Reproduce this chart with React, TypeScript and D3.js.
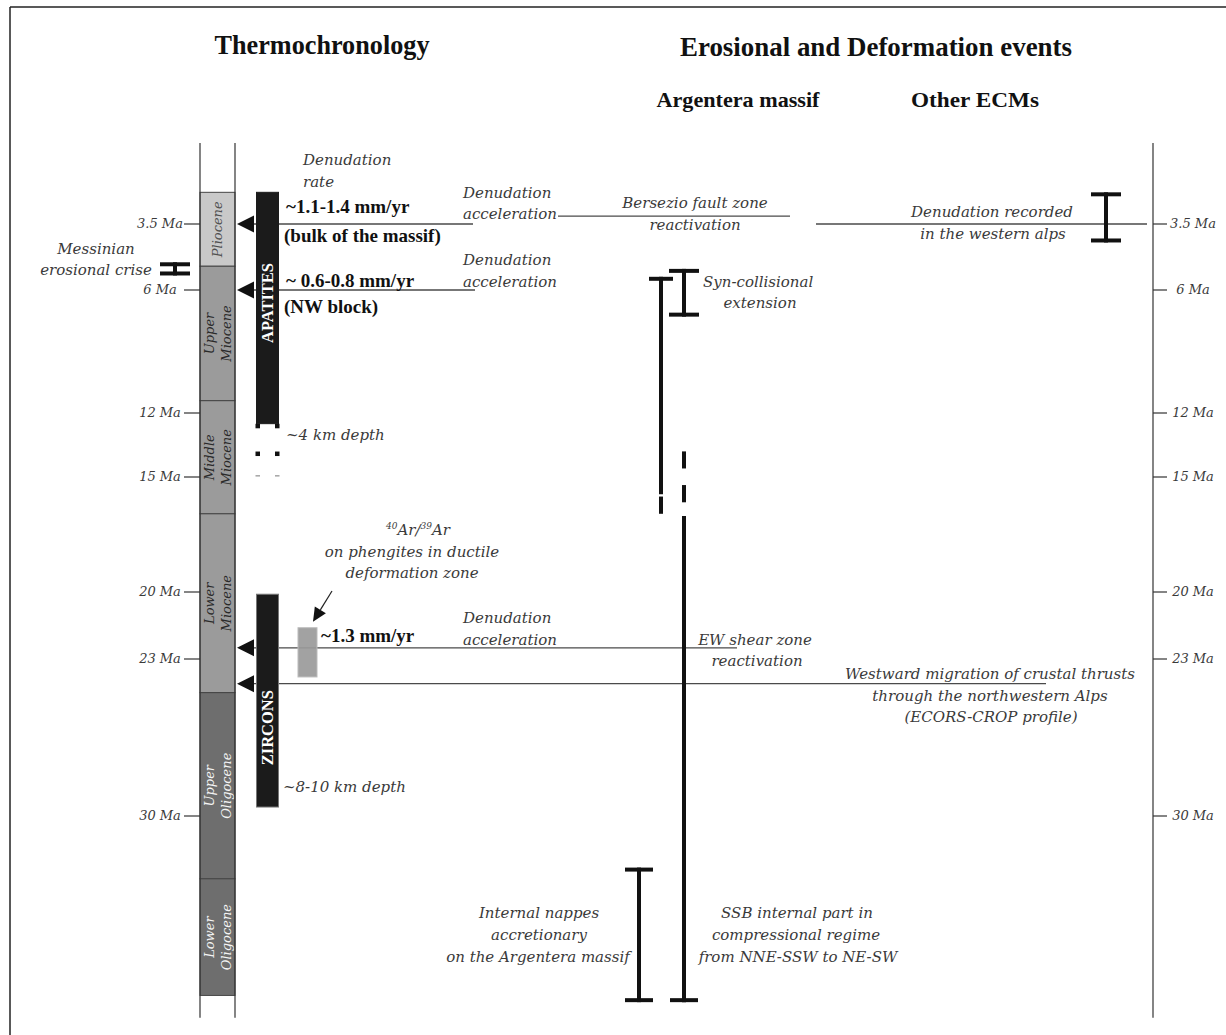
import React from "react";
import * as d3 from "d3";

// ---------- data (ages in Ma) ----------
const TICK_MA = [3.5, 6, 12, 15, 20, 23, 30];
const TICK_LABELS = ["3.5 Ma", "6 Ma", "12 Ma", "15 Ma", "20 Ma", "23 Ma", "30 Ma"];
const AXIS_SPAN_MA = [0.43, 39.0];

const EPOCH_NAMES = [["Pliocene"], ["Upper", "Miocene"], ["Middle", "Miocene"], ["Lower", "Miocene"], ["Upper", "Oligocene"], ["Lower", "Oligocene"]];
const EPOCH_TOP_MA = [2.3, 5.1, 11.4, 16.6, 24.5, 32.8];
const EPOCH_BASE_MA = [5.1, 11.4, 16.6, 24.5, 32.8, 38.0];
const EPOCH_GROUP = ["Pliocene", "Miocene", "Miocene", "Miocene", "Oligocene", "Oligocene"];

const THERMO_LABELS = ["APATITES", "ZIRCONS"];
const THERMO_FROM_MA = [2.3, 20.1];
const THERMO_TO_MA = [12.5, 29.6];
const APATITE_TAIL_MA = [12.6, 13.9, 15.0];

const ARROW_MA = [3.5, 6, 22.5, 24.1];
const ARAR_RANGE_MA = [21.6, 23.8];
const MESSINIAN_RANGE_MA = [4.95, 5.45];
const SYN_COLL_RANGE_MA = [5.2, 7.3];
const WESTERN_ALPS_RANGE_MA = [2.3, 4.2];
const NAPPES_RANGE_MA = [32.3, 38.3];
const ARG_LINE1_MA = [[5.5, 15.75], [15.85, 16.6]];
const ARG_LINE2_MA = [[13.8, 14.6], [15.35, 16.1], [16.7, 38.3]];
const BERSEZIO_MA = 3.2;

// ---------- styles ----------
const SERIF = "'DejaVu Serif', serif";
const TIMES = "'Liberation Serif', 'Times New Roman', serif";
const INK = "#3a3a3a";
const LINE = "#4a4a4a";
const EPOCH_FILL: Record<string, string> = { Pliocene: "#c9c9c9", Miocene: "#9b9b9b", Oligocene: "#6e6e6e" };
const EPOCH_TEXT: Record<string, string> = { Pliocene: "#505050", Miocene: "#2a2a2a", Oligocene: "#f4f4f4" };

function It({ x, y, children, anchor = "start", size = 15, fill = INK }: any) {
  return (
    <text x={x} y={y} dy="0.35em" textAnchor={anchor} fontSize={size} fontStyle="italic" fontFamily={SERIF} fill={fill}>
      {children}
    </text>
  );
}
function Bd({ x, y, children, anchor = "start", size = 19 }: any) {
  return (
    <text x={x} y={y} dy="0.33em" textAnchor={anchor} fontSize={size} fontWeight="bold" fontFamily={TIMES} fill="#111">
      {children}
    </text>
  );
}
function IBar({ x, y0, y1, hw, w = 4, top = true, bottom = true }: any) {
  return (
    <g stroke="#111" strokeWidth={w} strokeLinecap="butt">
      <line x1={x} x2={x} y1={y0} y2={y1} />
      {top && <line x1={x - hw} x2={x + hw} y1={y0 + w / 2} y2={y0 + w / 2} />}
      {bottom && <line x1={x - hw} x2={x + hw} y1={y1 - w / 2} y2={y1 - w / 2} />}
    </g>
  );
}

export default function App() {
  const y = d3.scaleLinear().domain(TICK_MA).range([224, 290, 413, 477, 592, 659, 816]);

  const colL = 200, colR = 235, rightAxis = 1153;
  const barL = 256.5, barR = 278.5;
  const argX1 = 661, argX2 = 684;

  // Ar/Ar pointer arrow
  const aStart = [332, y(20) - 1];
  const aTip = [313, y(ARAR_RANGE_MA[0]) - 6];
  const dx = aTip[0] - aStart[0], dyv = aTip[1] - aStart[1];
  const len = Math.hypot(dx, dyv);
  const ux = dx / len, uy = dyv / len;
  const hb = [aTip[0] - ux * 14, aTip[1] - uy * 14];
  const headPts = [aTip, [hb[0] - uy * 6.5, hb[1] + ux * 6.5], [hb[0] + uy * 6.5, hb[1] - ux * 6.5]];

  const arrowEnds = [473, 475, 737, 1046];

  return (
    <svg width={1226} height={1035} style={{ position: "absolute", left: 0, top: 0, background: "#fff" }}>
      {/* frame */}
      <line x1={10} x2={1226} y1={7} y2={7} stroke="#222" strokeWidth={1.5} />
      <line x1={10} x2={10} y1={7} y2={1035} stroke="#222" strokeWidth={1.5} />

      {/* titles */}
      <text x={322} y={54} textAnchor="middle" fontFamily={TIMES} fontWeight="bold" fontSize={28} textLength={215} lengthAdjust="spacingAndGlyphs" fill="#111">Thermochronology</text>
      <text x={876} y={56} textAnchor="middle" fontFamily={TIMES} fontWeight="bold" fontSize={28} textLength={392} lengthAdjust="spacingAndGlyphs" fill="#111">Erosional and Deformation events</text>
      <text x={738} y={107} textAnchor="middle" fontFamily={TIMES} fontWeight="bold" fontSize={22} textLength={163} lengthAdjust="spacingAndGlyphs" fill="#111">Argentera massif</text>
      <text x={975} y={107} textAnchor="middle" fontFamily={TIMES} fontWeight="bold" fontSize={22} textLength={128} lengthAdjust="spacingAndGlyphs" fill="#111">Other ECMs</text>

      {/* time column */}
      {EPOCH_NAMES.map((nm, i) => {
        const y0 = y(EPOCH_TOP_MA[i]), y1 = y(EPOCH_BASE_MA[i]);
        const g = EPOCH_GROUP[i];
        const cy = (y0 + y1) / 2, cx = (colL + colR) / 2;
        return (
          <g key={i}>
            <rect x={colL} y={y0} width={colR - colL} height={y1 - y0} fill={EPOCH_FILL[g]} stroke="#444" strokeWidth={1} />
            <g transform={`translate(${cx},${cy}) rotate(-90)`}>
              {nm.map((t, j) => (
                <text key={j} x={0} y={(j - (nm.length - 1) / 2) * 17} dy="0.35em" textAnchor="middle" fontSize={13} fontStyle="italic" fontFamily={SERIF} fill={EPOCH_TEXT[g]}>{t}</text>
              ))}
            </g>
          </g>
        );
      })}
      <line x1={colL} x2={colL} y1={y(AXIS_SPAN_MA[0])} y2={y(AXIS_SPAN_MA[1])} stroke="#333" strokeWidth={1.2} />
      <line x1={colR} x2={colR} y1={y(AXIS_SPAN_MA[0])} y2={y(AXIS_SPAN_MA[1])} stroke="#333" strokeWidth={1.2} />
      {TICK_MA.map((t, i) => (
        <g key={i}>
          <line x1={184} x2={colL} y1={y(t)} y2={y(t)} stroke="#333" strokeWidth={1.2} />
          <It x={160} y={y(t) - 1} anchor="middle" size={13}>{TICK_LABELS[i]}</It>
        </g>
      ))}

      {/* right axis */}
      <line x1={rightAxis} x2={rightAxis} y1={y(AXIS_SPAN_MA[0])} y2={y(AXIS_SPAN_MA[1])} stroke="#333" strokeWidth={1.2} />
      {TICK_MA.map((t, i) => (
        <g key={i}>
          <line x1={rightAxis} x2={rightAxis + 14} y1={y(t)} y2={y(t)} stroke="#333" strokeWidth={1.2} />
          <It x={1193} y={y(t) - 1} anchor="middle" size={13}>{TICK_LABELS[i]}</It>
        </g>
      ))}

      {/* horizontal event lines and arrows */}
      {ARROW_MA.map((t, i) => (
        <g key={i}>
          <line x1={252} x2={arrowEnds[i]} y1={y(t)} y2={y(t)} stroke={LINE} strokeWidth={1.4} />
          <polygon points={`${237},${y(t)} ${254},${y(t) - 8.5} ${254},${y(t) + 8.5}`} fill="#111" />
        </g>
      ))}
      <line x1={558} x2={790} y1={y(BERSEZIO_MA)} y2={y(BERSEZIO_MA)} stroke={LINE} strokeWidth={1.4} />
      <line x1={816} x2={1147} y1={y(3.5)} y2={y(3.5)} stroke={LINE} strokeWidth={1.4} />

      {/* thermochronology bars */}
      {THERMO_LABELS.map((lab, i) => {
        const y0 = y(THERMO_FROM_MA[i]), y1 = y(THERMO_TO_MA[i]);
        const cy = i === 0 ? (y0 + y1) / 2 - 5 : (y0 + y1) / 2 + 27;
        return (
          <g key={i}>
            <rect x={barL} y={y0} width={barR - barL} height={y1 - y0} fill="#1b1b1b" stroke={i === 1 ? "#777" : "#1b1b1b"} strokeWidth={1} />
            <text transform={`translate(${(barL + barR) / 2},${cy}) rotate(-90)`} dy="0.35em" textAnchor="middle" fontFamily={TIMES} fontWeight="bold" fontSize={16.5} fill="#fff">{lab}</text>
          </g>
        );
      })}
      {APATITE_TAIL_MA.map((t, i) => (
        <g key={i} fill={i === 2 ? "#aaa" : "#111"}>
          <rect x={barL - 1} y={y(t) - 2} width={4.5} height={i === 2 ? 1.6 : 4.5} />
          <rect x={barR - 3.5} y={y(t) - 2} width={4.5} height={i === 2 ? 1.6 : 4.5} />
        </g>
      ))}

      {/* Ar/Ar grey box and pointer */}
      <rect x={298} y={y(ARAR_RANGE_MA[0])} width={19} height={y(ARAR_RANGE_MA[1]) - y(ARAR_RANGE_MA[0])} fill="#9a9a9a" fillOpacity={0.92} stroke="#bbb" strokeWidth={1} />
      <line x1={aStart[0]} y1={aStart[1]} x2={hb[0]} y2={hb[1]} stroke="#222" strokeWidth={1.2} />
      <polygon points={headPts.map((p) => p.join(",")).join(" ")} fill="#111" />

      {/* thermochronology annotations */}
      <It x={303} y={y(3.5) - 64}>Denudation</It>
      <It x={303} y={y(3.5) - 42}>rate</It>
      <Bd x={286} y={y(3.5) - 17}>~1.1-1.4 mm/yr</Bd>
      <Bd x={284} y={y(3.5) + 12}>(bulk of the massif)</Bd>
      <Bd x={286} y={y(6) - 9}>~ 0.6-0.8 mm/yr</Bd>
      <Bd x={284} y={y(6) + 17}>(NW block)</Bd>
      <It x={286} y={y(12) + 22}>~4 km depth</It>
      <Bd x={321} y={y(ARAR_RANGE_MA[0]) + 8}>~1.3 mm/yr</Bd>
      <It x={283} y={y(THERMO_TO_MA[1]) - 20}>~8-10 km depth</It>
      <text x={418} y={y(20) - 57} textAnchor="middle" fontSize={15} fontStyle="italic" fontFamily={SERIF} fill={INK}>
        <tspan fontSize={9} dy={-6}>40</tspan>
        <tspan dy={6}>Ar/</tspan>
        <tspan fontSize={9} dy={-6}>39</tspan>
        <tspan dy={6}>Ar</tspan>
      </text>
      <It x={412} y={y(20) - 40} anchor="middle">on phengites in ductile</It>
      <It x={412} y={y(20) - 19} anchor="middle">deformation zone</It>

      {/* Messinian */}
      <It x={96} y={y(MESSINIAN_RANGE_MA[0]) - 14} anchor="middle">Messinian</It>
      <It x={96} y={y(MESSINIAN_RANGE_MA[1]) - 6} anchor="middle">erosional crise</It>
      <IBar x={175} y0={y(MESSINIAN_RANGE_MA[0])} y1={y(MESSINIAN_RANGE_MA[1])} hw={15} w={4} />

      {/* denudation acceleration labels */}
      <It x={463} y={y(3.5) - 31}>Denudation</It>
      <It x={463} y={y(3.5) - 10}>acceleration</It>
      <It x={463} y={y(6) - 30}>Denudation</It>
      <It x={463} y={y(6) - 8}>acceleration</It>
      <It x={463} y={y(22.5) - 30}>Denudation</It>
      <It x={463} y={y(22.5) - 8}>acceleration</It>

      {/* Argentera massif events */}
      <It x={695} y={y(BERSEZIO_MA) - 13} anchor="middle">Bersezio fault zone</It>
      <It x={695} y={y(BERSEZIO_MA) + 9} anchor="middle">reactivation</It>
      <IBar x={argX2} y0={y(SYN_COLL_RANGE_MA[0])} y1={y(SYN_COLL_RANGE_MA[1])} hw={15} w={4} />
      <It x={703} y={y(6) - 8}>Syn-collisional</It>
      <It x={760} y={y(6) + 13} anchor="middle">extension</It>
      {ARG_LINE1_MA.map((s, i) => (
        <IBar key={i} x={argX1} y0={y(s[0])} y1={y(s[1])} hw={12} w={4} top={i === 0} bottom={false} />
      ))}
      {ARG_LINE2_MA.map((s, i) => (
        <IBar key={i} x={argX2} y0={y(s[0])} y1={y(s[1])} hw={14} w={4} top={false} bottom={i === ARG_LINE2_MA.length - 1} />
      ))}
      <It x={755} y={y(22.5) - 8} anchor="middle">EW shear zone</It>
      <It x={757} y={y(22.5) + 13} anchor="middle">reactivation</It>
      <IBar x={639} y0={y(NAPPES_RANGE_MA[0])} y1={y(NAPPES_RANGE_MA[1])} hw={14} w={4} />
      <It x={539} y={y(30) + 97} anchor="middle">Internal nappes</It>
      <It x={539} y={y(30) + 119} anchor="middle">accretionary</It>
      <It x={538} y={y(30) + 141} anchor="middle">on the Argentera massif</It>
      <It x={797} y={y(30) + 97} anchor="middle">SSB internal part in</It>
      <It x={796} y={y(30) + 119} anchor="middle">compressional regime</It>
      <It x={798} y={y(30) + 141} anchor="middle">from NNE-SSW to NE-SW</It>

      {/* Other ECMs */}
      <It x={992} y={y(3.5) - 12} anchor="middle">Denudation recorded</It>
      <It x={993} y={y(3.5) + 10} anchor="middle">in the western alps</It>
      <IBar x={1106} y0={y(WESTERN_ALPS_RANGE_MA[0])} y1={y(WESTERN_ALPS_RANGE_MA[1])} hw={15} w={4} />
      <It x={990} y={y(24.1) - 10} anchor="middle">Westward migration of crustal thrusts</It>
      <It x={990} y={y(24.1) + 12} anchor="middle">through the northwestern Alps</It>
      <It x={991} y={y(24.1) + 33} anchor="middle">(ECORS-CROP profile)</It>
    </svg>
  );
}
